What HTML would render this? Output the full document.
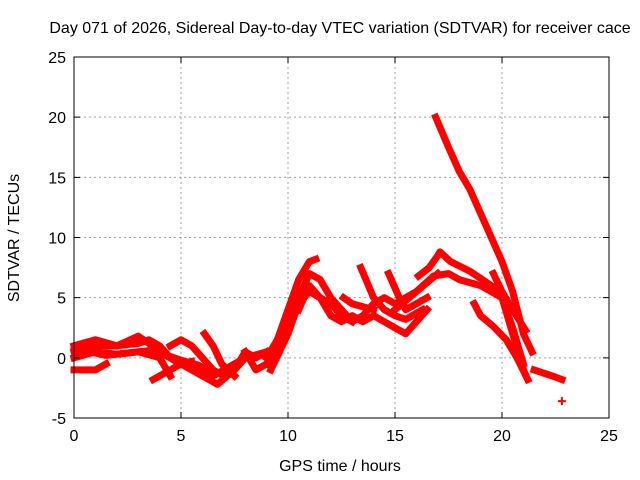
<!DOCTYPE html>
<html><head><meta charset="utf-8"><style>
body{margin:0;background:#fff;}
svg{display:block;font-family:"Liberation Sans",sans-serif;}
</style></head><body>
<svg id="chart" width="640" height="480">
<rect width="640" height="480" fill="#fff"/>
<text x="340" y="33" font-size="16" text-anchor="middle">Day 071 of 2026, Sidereal Day-to-day VTEC variation (SDTVAR) for receiver cace</text>
<g id="grid"></g>
<g id="series"></g>
<g id="axes"></g>
<rect x="74" y="57" width="535" height="361" fill="none" stroke="#000" stroke-width="1"/>
<text x="340" y="471" font-size="16" text-anchor="middle">GPS time / hours</text>
<text x="19" y="238" font-size="16" text-anchor="middle" transform="rotate(-90 19 238)">SDTVAR / TECUs</text>
</svg>
<script>
const xTicks=[0,5,10,15,20,25];
const yTicks=[-5,0,5,10,15,20,25];
const trackNames=["t-desc","t-peak","t-mid","t-low-a","t-low-b","h-a","h-b","h-c","h-d","h-e","h-f","h-g","l1","l2","l3","l4","l5","l6","l7","l8","l9","tail","l10"];
const trackHours=[
[16.9,17.5,18,18.5,19,19.5,20,20.5,21,21.4],
[16.1,16.6,17,17.1,17.6,18.5,19.5,20,20.5,21,21.2],
[15,16,16.8,17.5,18,19,20,20.5,21],
[18.7,19,19.6,20.2,20.7,21.2],
[19.6,20,20.5,21.1],
[9,9.5,10,10.5,11,11.3],
[9,10,10.5,11,11.5,12,12.5,13,13.5,14,14.5,15,15.5,16,17],
[9.2,10,10.5,11,11.5,12,12.5,13],
[10.5,11,11.5,12,12.5,13,13.5,14,14.5,15,15.5,16,16.5],
[13.4,14,14.5,15,15.5,16.3],
[14.7,15.2,15.5,16,16.5],
[12.6,13,14],
[0,1,2,3,3.5,4,4.5,5,6,6.5,7,8,9],
[0,1,1.5],
[0,1,2,3,4,4.5],
[4.5,5,5.5,6,6.5,7,7.5,8],
[6.1,6.5,6.9,7.5],
[4,5,6,6.7,7.5,8,8.5,9],
[0,1,2,3,3.5,4,5,5.5],
[3.7,4.5,5],
[8,8.5,9],
[21.5,22,22.5,22.8],
[0,0.5,1.5,2.5,3.5,4.2,5,5.8,6.5]
];
const trackValues=[
[20,17.5,15.5,14,12,10,8,5.5,2,0.5],
[6.8,7.5,8.5,8.8,8,7.2,6,5,2,-1,-1.8],
[4,5.5,6.8,7,6.5,6,5,2.5,-0.5],
[4.5,3.5,2.6,1.5,0,-1.8],
[7,5.5,4,2.3],
[0,1.5,4,6.5,8,8.2],
[-0.5,3,5,7,6.5,5,4,3,3.5,4.5,5,4.5,5,5.5,7],
[-1,2,4.5,5.5,5,4.5,3.5,3],
[4,6,5,3.5,3,3.5,3,3.5,3,2.5,2,3,4],
[7.5,5,4,3.5,3.2,4],
[7,5,4,4.5,5],
[5,4.5,4],
[0.5,1,1,1.2,1.5,1,0,-0.5,-1,-1.5,-1,0,0.5],
[-1,-1,-0.5],
[0,0.5,0.3,0.5,0,-1.5],
[1,1.5,1,0,-1,-1.5,-1,0],
[2,1,-0.5,-1.5],
[0.5,-0.5,-1.5,-2.2,-1,0.5,0,0.5],
[1,1.5,1,1.8,1.2,0.5,-0.5,-0.3],
[-1.8,-1,-0.5],
[0.5,-1,-0.5],
[-1,-1.3,-1.6,-1.8],
[0.8,0.6,0.2,0.4,0.6,0.3,-0.2,-0.6,-1.2]
];
const isolatedHours=[22.8];
const isolatedValues=[-3.6];

const X0=74,X1=609,Y0=418,Y1=57,XMIN=0,XMAX=25,YMIN=-5,YMAX=25;
function sx(h){return X0+(h-XMIN)/(XMAX-XMIN)*(X1-X0);}
function sy(v){return Y0-(v-YMIN)/(YMAX-YMIN)*(Y0-Y1);}
const NS="http://www.w3.org/2000/svg";
const grid=document.getElementById('grid'),axes=document.getElementById('axes'),ser=document.getElementById('series');
function mk(tag,attrs,parent){const e=document.createElementNS(NS,tag);for(const k in attrs)e.setAttribute(k,attrs[k]);parent.appendChild(e);return e;}
xTicks.forEach(t=>{
  const x=sx(t);
  if(t>XMIN&&t<XMAX){const g=mk('line',{x1:x,x2:x,y1:Y1,y2:Y0,stroke:'#a0a0a0','stroke-dasharray':'2,3'},grid);
  
  }
  const tk=mk('path',{d:`M${x} ${Y0}v-6M${x} ${Y1}v6`,stroke:'#000'},axes);
  
  
  const l=mk('text',{x:x,y:Y0+23,'font-size':16,'text-anchor':'middle'},axes);l.textContent=t;
  
  
});
yTicks.forEach(t=>{
  const y=sy(t);
  if(t>YMIN&&t<YMAX){const g=mk('line',{x1:X0,x2:X1,y1:y,y2:y,stroke:'#a0a0a0','stroke-dasharray':'2,3'},grid);
  
  }
  const tk=mk('path',{d:`M${X0} ${y}h6M${X1} ${y}h-6`,stroke:'#000'},axes);
  
  
  const l=mk('text',{x:X0-8,y:y+6,'font-size':16,'text-anchor':'end'},axes);l.textContent=t;
  
  
});
trackHours.forEach((hs,i)=>{
  const pts=hs.map((h,j)=>sx(h).toFixed(1)+','+sy(trackValues[i][j]).toFixed(1)).join(' ');
  const p=mk('polyline',{points:pts,fill:'none',stroke:'#ff0000','stroke-width':7,'stroke-linejoin':'round','stroke-linecap':'square'},ser);
  
  
});
isolatedHours.forEach((h,i)=>{
  const x=sx(h),y=sy(isolatedValues[i]);
  const p=mk('path',{d:`M${x-4} ${y}h8M${x} ${y-4}v8`,stroke:'#ff0000','stroke-width':2},ser);
  
  
});
</script>
</body></html>
